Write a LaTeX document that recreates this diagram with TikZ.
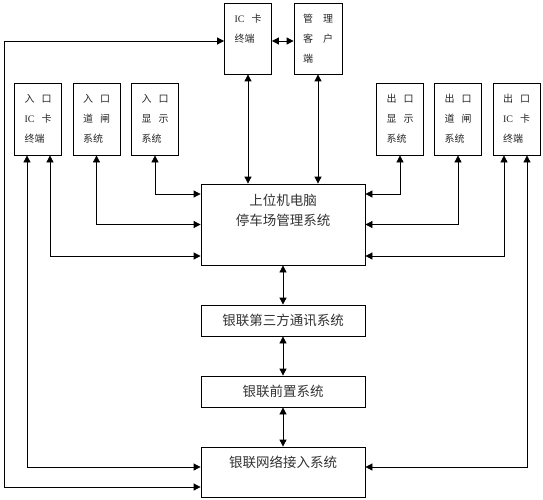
\documentclass[tikz,border=0pt]{standalone}
\usepackage{fontspec}
\newfontfamily\cjk{Noto Sans CJK SC}
\newfontfamily\lat{Liberation Serif}
\usetikzlibrary{arrows.meta}

\begin{document}
\begin{tikzpicture}[x=1pt, y=-1pt, >={Triangle[length=7pt,width=7pt]},
    caja/.style={draw, thick, rectangle, text width=27pt, inner xsep=10pt, minimum height=72pt, align=left, text=black!85, font=\cjk\fontsize{10}{20}\selectfont},
    sistema/.style={draw, thick, rectangle, minimum width=164pt, align=center, text=black!80, font=\cjk\fontsize{13.5}{20}\selectfont}]
            \useasboundingbox (0,0) rectangle (543,500);
            % Cajas
            \node[caja, minimum height=71pt] (ic) at (248,38.5) {{\lat IC}\hspace{7pt}卡\\终端\\\mbox{}};
            \node[caja, minimum height=71pt, text width=30pt, inner xsep=9pt] (gl) at (318,38.5) {管\hspace{10pt}理\\客\hspace{10pt}户\\端};
            \node[caja] (in1) at (38,119) {入\hspace{7pt}口\\{\lat IC}\hspace{7pt}卡\\终端};
            \node[caja] (in2) at (96.5,119) {入\hspace{7pt}口\\道\hspace{7pt}闸\\系统};
            \node[caja] (in3) at (155,119) {入\hspace{7pt}口\\显\hspace{7pt}示\\系统};
            \node[caja] (out3) at (400,119) {出\hspace{7pt}口\\显\hspace{7pt}示\\系统};
            \node[caja] (out2) at (458,119) {出\hspace{7pt}口\\道\hspace{7pt}闸\\系统};
            \node[caja] (out1) at (516.5,119) {出\hspace{7pt}口\\{\lat IC}\hspace{7pt}卡\\终端};
            \node[sistema, minimum height=81pt] (pc) at (283,224.5) {上位机电脑\\停车场管理系统\\[9pt]\mbox{}};
            \node[sistema, minimum height=31pt] (yl3) at (283,320.5) {银联第三方通讯系统};
            \node[sistema, minimum height=31pt] (ylq) at (283,391.5) {银联前置系统};
            \node[sistema, minimum height=50pt] (ylw) at (283,472) {银联网络接入系统\\\mbox{}};

            % Flechas
            \draw[<->, thick] ([yshift=-2.5pt]ic.west) -| (4,487) -- ([yshift=-15pt]ylw.west);
            \draw[<->, thick] ([yshift=-2.5pt]ic.east) -- ([yshift=-2.5pt]gl.west);
            \draw[<->, thick] (ic.south) -- (ic.south |- pc.north);
            \draw[<->, thick] (gl.south) -- (gl.south |- pc.north);
            \draw[<->, thick] ([xshift=-11pt]in1.south) |- ([yshift=5pt]ylw.west);
            \draw[<->, thick] ([xshift=12pt]in1.south) |- ([yshift=-31.5pt]pc.west);
            \draw[<->, thick] (in2.south) |- (pc.west);
            \draw[<->, thick] (in3.south) |- ([yshift=30.5pt]pc.west);
            \draw[<->, thick] (out3.south) |- ([yshift=30.5pt]pc.east);
            \draw[<->, thick] (out2.south) |- (pc.east);
            \draw[<->, thick] ([xshift=-12.5pt]out1.south) |- ([yshift=-31.5pt]pc.east);
            \draw[<->, thick] ([xshift=10.5pt]out1.south) |- ([yshift=5pt]ylw.east);
            \draw[<->, thick] (pc.south) -- (yl3.north);
            \draw[<->, thick] (yl3.south) -- (ylq.north);
            \draw[<->, thick] (ylq.south) -- (ylw.north);
          \end{tikzpicture}
\end{document}
